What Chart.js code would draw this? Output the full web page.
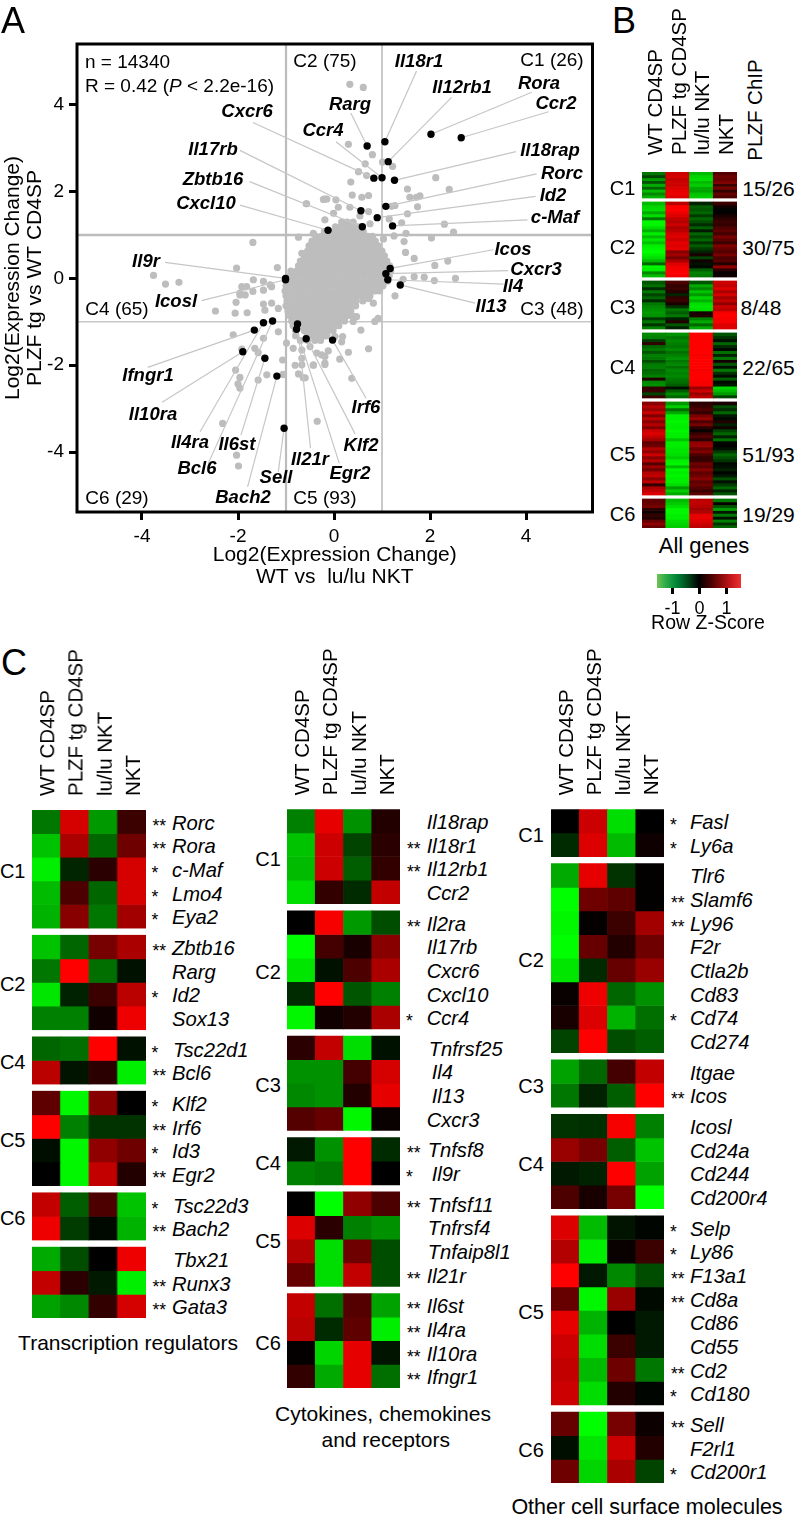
<!DOCTYPE html>
<html>
<head>
<meta charset="utf-8">
<title>PLZF expression clusters</title>
<script src="https://cdn.jsdelivr.net/npm/chart.js@4"></script>
<style>
  html, body { margin: 0; background: #fff; }
  #fig { position: relative; width: 796px; height: 1520px; overflow: hidden; background: #fff; }
  #fig canvas { position: absolute; }
  .t { position: absolute; white-space: pre; line-height: 1; color: #000; font-family: "Liberation Sans", Arial, sans-serif; z-index: 5; }
</style>
</head>
<body>
<div id="fig"></div>
<script>
// ---- Panel A data ----
const axisTicks = [-4, -2, 0, 2, 4];
const cutoffs = [-1, 1];

// the dense middle of the scatter, read row by row
const cloudY = [1.30, 1.19, 1.08, .97, .86, .75, .63, .52, .40, .29, .17, .06, -.06, -.17, -.29, -.40, -.52, -.63, -.75, -.86, -.98, -1.09, -1.20, -1.32, -1.43];
const cloudX = [
  [.16, .27, .40],
  [.03, .15, .27, .39, .50],
  [-.20, -.09, .03, .14, .26, .38, .50, .61],
  [-.38, -.26, -.14, -.02, .10, .22, .34, .46, .58, .70, .80],
  [-.46, -.33, -.21, -.09, .03, .15, .27, .39, .51, .63, .75, .86],
  [-.52, -.40, -.28, -.16, -.04, .08, .20, .32, .44, .56, .68, .80, .92],
  [-.55, -.43, -.31, -.19, -.07, .05, .17, .29, .41, .53, .65, .77, .89, 1.00],
  [-.62, -.50, -.38, -.26, -.13, -.01, .11, .23, .35, .47, .59, .71, .83, .95, 1.05],
  [-.70, -.58, -.46, -.33, -.21, -.09, .03, .15, .27, .39, .51, .63, .75, .87, .99, 1.10],
  [-.74, -.62, -.50, -.38, -.26, -.14, -.02, .10, .22, .34, .46, .58, .70, .82, .94, 1.06, 1.16],
  [-.90, -.78, -.66, -.54, -.42, -.30, -.18, -.06, .06, .18, .30, .42, .54, .66, .78, .90, 1.02, 1.10, 1.18],
  [-.92, -.84, -.72, -.60, -.48, -.36, -.24, -.12, 0, .12, .24, .36, .48, .60, .72, .84, .96, 1.08, 1.15],
  [-.95, -.82, -.70, -.58, -.46, -.34, -.22, -.10, .02, .14, .26, .38, .50, .62, .74, .86, .98, 1.12],
  [-1.00, -.88, -.76, -.64, -.52, -.40, -.28, -.16, -.04, .08, .20, .32, .44, .56, .68, .80, .92, 1.02],
  [-1.02, -.90, -.78, -.66, -.54, -.42, -.30, -.18, -.06, .06, .18, .30, .42, .54, .66, .78, .86, .95],
  [-1.00, -.88, -.76, -.64, -.52, -.40, -.28, -.16, -.04, .08, .20, .32, .44, .56, .66, .75],
  [-.98, -.86, -.74, -.62, -.50, -.38, -.26, -.14, -.02, .10, .22, .34, .46, .60],
  [-1.00, -.88, -.76, -.64, -.52, -.40, -.28, -.16, -.04, .08, .20, .32, .45],
  [-.96, -.84, -.72, -.60, -.48, -.36, -.24, -.12, 0, .12, .24, .35],
  [-.92, -.80, -.68, -.56, -.44, -.32, -.20, -.08, .04, .16, .28, .38],
  [-.88, -.74, -.62, -.50, -.38, -.26, -.14, -.02, .10, .22],
  [-.85, -.68, -.56, -.44, -.32, -.20, -.08, .04, .10],
  [-.80, -.62, -.50, -.38, -.26, -.14, -.02],
  [-.80, -.56, -.44, -.32, -.20, -.15],
  [-.70, -.55, -.40, -.28]
];
// scattered grey genes outside the cloud
const grayPoints = [
  [.33,4.47],[.61,4.40],[.30,3.09],[.80,2.85],[.65,2.64],[1.01,2.68],[1.22,2.58],[.51,2.46],[.68,2.37],[.35,2.22],
  [2.12,2.32],[1.53,2.06],[2.40,2.05],[.38,1.92],[.58,1.87],[.72,1.91],[1.58,1.87],[1.79,1.90],[1.72,1.87],[-.22,1.82],
  [-.15,1.83],[.04,1.81],[-.57,1.72],[.09,1.64],[.33,1.64],[.72,1.54],[1.27,1.68],[1.20,1.66],[1.74,1.65],[1.53,1.49],
  [-.01,1.50],[-.19,1.35],[.54,1.44],[1.15,1.37],[1.41,1.28],[2.30,1.25],[.75,1.26],[2.49,1.07],[1.50,1.04],[2.03,.93],
  [1.25,.98],[1.46,.85],[1.03,.91],[1.49,.60],[1.67,.46],[2.10,.30],[2.37,.40],[1.67,.04],[1.88,.03],[2.09,-.05],
  [2.53,0],[1.27,-.40],[1.44,-.02],[-1.69,.83],[-3.76,.07],[-3.51,-.13],[-3.23,-.09],[-2.03,.24],[-1.18,.25],[-.58,1.72],
  [-.19,1.83],[-.74,.95],[-.43,1.04],[-.67,.58],[-.47,.66],[-.29,.73],[-1.92,-.19],[-1.82,-.19],[-1.96,-.34],[-1.68,-.03],
  [-1.47,-.07],[-1.30,-.19],[-1.85,-.38],[-1.96,-.38],[-1.69,-.30],[-2.04,-.55],[-2.47,-.75],[-2.06,-.80],[-1.81,-.79],[-1.47,-.59],
  [-1.30,-.57],[-1.44,-.73],[-1.16,-.69],[-1.33,-.15],[-1.47,-.27],[-2.10,-1.30],[-1.16,-1.23],[-1.47,-1.38],[-1.65,-1.61],[-1.58,-1.71],
  [-1.92,-1.63],[-2.05,-2.11],[-1.96,-2.28],[-2.00,-2.43],[-1.96,-2.53],[-1.58,-2.34],[-1.40,-2.22],[-1.06,-2.21],[-1.07,-1.88],[-2.32,-3.34],
  [-2.03,-4.07],[-1.99,-4.32],[-.35,-3.29],[-.99,-1.49],[-.85,-1.61],[-.67,-1.65],[-.50,-1.57],[-.36,-1.72],[-.81,-2.00],[-.67,-1.99],
  [-.43,-2.00],[-.19,-1.95],[-.74,-2.20],[-.64,-2.29],[-.67,-1.84],[.82,-.57],[.72,-.46],[.85,-.27],[.47,-.88],[.40,-.99],
  [.92,-.92],[.85,-.99],[.56,-1.19],[.72,-1.62],[.30,-1.70],[.12,-1.86],[.18,-1.34],[.16,-1.46],[.02,-1.34],[-.12,-1.67],
  [-.19,-1.80],[-.26,-1.76],[-.43,-1.99],[-.19,-1.98],[.37,-2.30],[-.60,-2.29],[-.15,-1.30]
];
// labelled genes: black dot, then the far end of its leader line
const markedGenes = ['Il18r1','Il12rb1','Rora','Ccr2','Rarg','Ccr4','Cxcr6','Il18rap','Rorc','Id2','c-Maf','Il17rb','Zbtb16','Cxcl10','Icos','Cxcr3','Il4','Il13','Il9r','Icosl','Ifngr1','Il10ra','Il4ra','Bcl6','Il6st','Bach2','Sell','Il21r','Egr2','Klf2','Irf6'];
const markedX = [1.06,1.13,2.02,2.65,.69,1.00,.83,1.26,1.08,.90,1.22,.56,.59,-.125,1.17,1.08,1.12,1.38,-1.01,-1.01,-1.66,-1.90,-1.47,-1.28,-1.44,-1.19,-1.04,-.76,-.78,-.58,-.03];
const markedY = [3.15,2.69,3.32,3.24,3.05,2.32,2.31,2.26,1.66,1.40,1.21,1.56,1.19,1.11,.23,.11,-.03,-.15,0,-.03,-1.19,-1.69,-1.02,-.98,-1.84,-2.25,-3.45,-1.05,-1.17,-1.39,-1.42];
const leaderX = [1.72,2.45,4.12,4.47,.35,.04,-1.69,3.79,4.22,4.20,4.03,-1.96,-1.76,-1.96,3.32,3.63,3.53,2.94,-3.52,-2.76,-3.88,-3.58,-2.79,-2.62,-1.94,-1.80,-1.16,-.49,.11,.44,.67];
const leaderY = [4.78,4.17,4.29,3.84,3.81,3.15,3.59,2.92,2.41,1.89,1.35,2.95,2.23,1.69,.66,.18,-.13,-.57,.37,-.51,-2.05,-2.85,-3.53,-4.26,-3.61,-4.80,-4.45,-3.91,-4.26,-3.58,-2.76];
const markedLabelX = [419,462,539,556,350,323,247,550,562,553,555,213,213,206,513,536,513,491,146,176,148,153,190,197,237,243,276,310,350,361,366];
const markedLabelY = [61,87,83,103,104,130,111,150,173,195,217,149,179,203,249,269,286,306,261,301,375,414,442,468,444,497,477,459,473,445,407];

// ---- Panel B data ----
const sampleNames = ['WT CD4SP', 'PLZF tg CD4SP', 'lu/lu NKT', 'NKT'];
const allClusters = ['C1', 'C2', 'C3', 'C4', 'C5', 'C6'];
const allClusterSizes = [26, 75, 48, 65, 93, 29];
const chipCounts = ['15/26', '30/75', '8/48', '22/65', '51/93', '19/29'];
const keyRange = [-1.57, 1.54];
const keyTicks = [-1, 0, 1];
const allC1 = [[-.7,1.2,-1.1,.5],[-.4,1.25,-1.25,.65],[-.9,1.15,-1.3,.6],[-.5,1.2,-1.1,.75],[-1.0,1.2,-1.2,.35],[-.6,1.3,-1.0,.7],[-1.1,1.35,-.95,.3],[-.8,1.4,-1.15,.6],[-1.05,1.3,-1.2,.45]];
const allC2 = [[-1.1,1.1,-.2,.35],[-1.25,1.5,-.55,.1],[-1.3,1.5,-.5,-.02],[-1.0,1.4,-.6,.02],[-1.3,1.3,-.35,.15],[-.7,1.15,-.6,.25],[-1.45,1.05,-.45,.35],[-1.45,1.2,-.25,.3],[-1.3,1.0,-.55,.45],[-1.05,1.1,-.15,.55],[-1.4,1.25,-.6,.4],[-1.1,1.3,-.4,.7],[-1.35,1.2,-.6,.55],[-1.15,1.35,-.3,.35],[-1.4,1.3,-.55,.75],[-1.45,1.35,-.35,.6],[-1.5,.8,-.2,.5],[-1.4,.95,.15,.7],[-1.3,.7,-.4,.45],[-1.1,1.0,.1,.5],[-.6,1.3,-.1,.2],[-1.45,1.4,-.05,.85],[-1.4,1.45,-.55,.25],[-.8,1.5,-.75,.05],[-1.1,1.4,-.7,.1]];
const allC3 = [[-.5,.45,-.5,1.2],[-.65,.3,-1.0,1.15],[-.25,.35,-.8,1.3],[-.7,.2,-1.15,1.0],[-.4,-.2,-.9,1.25],[-.6,.3,-1.25,.95],[-.25,.35,-1.05,1.15],[-.7,.15,-1.3,.85],[-.8,-.3,-1.35,1.2],[-.85,-.7,-1.3,1.1],[-.9,-.55,.15,1.45],[-.85,-.7,.2,1.5],[-.35,-.2,-.75,1.45],[-.7,.2,-1.0,1.45],[-.3,-.5,-.6,1.3],[-.75,-.2,-1.0,1.3]];
const allC4 = [[-.8,-.85,1.5,-.5],[-.75,-.7,1.5,-.3],[-.35,-.8,1.5,-.1],[.3,-.75,1.5,-.6],[-.6,-.7,1.5,-.25],[-.7,-.8,1.5,-.05],[-.5,-.65,1.5,-.65],[-.75,-.75,1.45,-.2],[-.7,-.85,1.5,-.7],[-.45,-.7,1.5,.1],[-.7,-.8,1.5,-.5],[-.75,-.65,1.5,-.1],[-.6,-.8,1.45,-.7],[-.65,-.75,1.5,-.3],[-.75,-.8,1.5,-.08],[.2,-.7,1.5,-.55],[-.8,-.65,1.45,-.05],[-.85,-.55,1.45,-.15],[.3,-.1,.9,-1.25],[.35,-.55,1.2,-1.1],[-.4,-.8,.9,-.9],[.35,-.6,1.1,-.4]];
const allC5 = [[.8,-.9,.25,.15],[1.05,-1.2,.35,-.45],[.9,-.65,.45,-.25],[1.2,-1.0,.3,-.6],[.75,-1.4,.7,-.15],[1.1,-1.4,.9,-.05],[.8,-1.45,.45,.2],[1.05,-1.4,.7,-.2],[.75,-1.4,.25,.1],[1.2,-1.45,.05,-.4],[1.3,-1.4,.35,-.6],[1.15,-1.4,.5,-.2],[.95,-1.15,.25,-.65],[.55,-1.4,.85,-.05],[.65,-1.4,.9,.02],[1.05,-1.35,.6,-.1],[.85,-1.35,.75,-.35],[1.2,-1.3,.45,-.6],[.8,-1.2,.3,-.45],[1.05,-1.4,.35,-.3],[.5,-1.45,.65,-.05],[.9,-1.1,.55,-.1],[.65,-1.45,.8,-.2],[1.05,-1.4,.55,-.02],[1.15,-1.45,.65,-.15],[.8,-1.4,.8,-.45],[1.1,-1.4,.55,-.1],[.3,-1.3,.65,-.35],[1.0,-.9,.5,-.6],[1.15,-1.2,.35,-.2],[1.3,-1.0,.55,-.5]];
const allC6 = [[.55,-1.1,1.1,-.7],[.6,-1.2,1.15,.05],[.7,-1.3,1.05,-.5],[.25,-1.45,.95,-.9],[.1,-1.45,1.05,-.15],[.3,-1.4,1.35,-.7],[.2,-1.4,1.35,-.1],[.6,-1.3,1.3,-.75],[.85,-1.25,1.2,-.3],[.6,-1.2,1.1,-.6]];

// ---- Panel C data ----
const trClusters = ['C1', 'C2', 'C4', 'C5', 'C6', ''];
const trSizes = [5, 4, 2, 4, 2, 3];
const trGenes = ['Rorc','Rora','c-Maf','Lmo4','Eya2','Zbtb16','Rarg','Id2','Sox13','Tsc22d1','Bcl6','Klf2','Irf6','Id3','Egr2','Tsc22d3','Bach2','Tbx21','Runx3','Gata3'];
const trStars = ['**','**','*','*','*','**','','*','','*','**','*','**','*','**','*','**','','**','**'];
const trZ = [[-.7,1.25,-.9,.35],[-1.15,1.0,-.6,.65],[-1.4,-.22,.25,1.25],[-1.1,.45,-.6,1.25],[-1.05,.8,-.7,.95],[-1.15,-.6,.7,1.0],[-.7,1.5,-.65,-.1],[-1.35,-.2,.35,1.1],[-.75,-.75,.1,1.4],[-.6,-.65,1.5,-.1],[1.1,-.12,.25,-1.4],[.55,-1.45,.8,0],[1.5,-.75,-.3,-.3],[-.08,-1.45,.85,.65],[0,-1.45,1.15,.2],[1.15,-.55,.45,-1.15],[1.4,-.35,-.05,-1.05],[-1.0,-.45,0,1.4],[1.15,.25,-.15,-1.4],[-.95,-.8,.3,1.25]];

const cyClusters = ['C1', 'C2', 'C3', 'C4', 'C5', 'C6'];
const cySizes = [4, 5, 4, 2, 4, 4];
const cyGenes = ['Il18rap','Il18r1','Il12rb1','Ccr2','Il2ra','Il17rb','Cxcr6','Cxcl10','Ccr4','Tnfrsf25','Il4','Il13','Cxcr3','Tnfsf8','Il9r','Tnfsf11','Tnfrsf4','Tnfaip8l1','Il21r','Il6st','Il4ra','Il10ra','Ifngr1'];
const cyStars = ['','**','**','','**','','','','*','','','','','**','*','**','','','**','**','**','**','**'];
const cyZ = [[-.75,1.35,-.85,.2],[-1.15,1.2,-.4,.25],[-1.1,1.2,-.55,.3],[-1.3,.3,-.25,1.15],[0,1.45,-.9,-.45],[-1.5,.4,.15,.8],[-1.35,-.1,.45,1.0],[-.25,1.5,-.5,-.75],[-1.45,.1,.2,1.0],[.25,1.15,-1.3,-.1],[-.85,-.85,.4,1.25],[-.8,-.85,.2,1.35],[.5,.6,-1.45,.05],[-.15,-.85,1.5,-.25],[-.75,-.7,1.5,0],[0,-1.5,.85,.45],[1.3,.25,-.75,-.85],[1.05,-1.3,.65,-.45],[.6,-1.3,1.15,-.45],[1.15,-.65,.5,-.95],[1.1,-.25,.55,-1.4],[.03,-1.25,1.35,-.12],[.3,-1.0,1.35,-.65]];

const otClusters = ['C1', 'C2', 'C3', 'C4', 'C5', 'C6'];
const otSizes = [2, 8, 2, 4, 8, 3];
const otGenes = ['Fasl','Ly6a','Tlr6','Slamf6','Ly96','F2r','Ctla2b','Cd83','Cd74','Cd274','Itgae','Icos','Icosl','Cd24a','Cd244','Cd200r4','Selp','Ly86','F13a1','Cd8a','Cd86','Cd55','Cd2','Cd180','Sell','F2rl1','Cd200r1'];
const otStars = ['*','*','','**','**','','','','*','','','**','','','','','*','*','**','**','','','**','*','**','','*'];
const otZ = [[0,1.2,-1.3,0],[-.25,1.3,-1.1,.08],[-1.0,1.35,-.3,.02],[-1.5,.65,.55,.02],[-1.45,.03,.35,.95],[-1.5,.6,.2,.65],[-1.35,-.25,.6,.9],[.05,1.4,-.6,-.85],[.15,1.3,-1.05,-.65],[-.4,1.5,-.45,-.55],[-.95,-.6,.4,1.15],[-.7,-.2,-.55,1.5],[-.3,-.28,1.45,-.75],[.9,.7,-.55,-1.15],[-.15,-.2,1.5,-.95],[.45,.15,.7,-1.5],[1.3,-1.1,-.12,-.03],[1.05,-1.4,.05,.35],[1.5,-.15,-.8,-.45],[.6,-1.45,.9,-.05],[1.35,-1.05,0,-.15],[1.2,-1.3,.35,-.15],[1.15,-1.1,.65,-.7],[1.2,-1.3,.2,-.03],[.6,-1.5,.7,.07],[-.08,-1.35,1.2,.2],[.65,-1.25,1.0,-.4]];

// genes that sit a little right of the text column
const geneIndent = { 'Il4': 5, 'Il13': 5, 'Il9r': 5, 'Tnfrsf25': 2, 'Tnfsf8': 1, 'Tnfsf11': 1, 'Tnfrsf4': 1, 'Tnfaip8l1': 1, 'Tsc22d1': 1, 'Tsc22d3': 1, 'Tbx21': 1 };

const fig = document.getElementById('fig');
const FONT = '"Liberation Sans", Arial, sans-serif';
Chart.defaults.font.family = FONT;
Chart.defaults.color = '#000';

// Free text on top of the charts, (x, y) is the anchor point
function place(str, x, y, o) {
    o = o || {};
    const d = document.createElement('div');
    d.className = 't';
    if (o.html) d.innerHTML = str; else d.textContent = str;
    d.style.left = x + 'px';
    d.style.top = y + 'px';
    d.style.fontSize = (o.size || 19) + 'px';
    if (o.italic) d.style.fontStyle = 'italic';
    if (o.bold) d.style.fontWeight = 'bold';
    const tx = o.align === 'left' ? '0' : '-50%';
    d.style.transform = 'translate(' + tx + ',-50%)' + (o.rot ? ' rotate(' + o.rot + 'deg)' : '');
    fig.appendChild(d);
}

function addCanvas(left, top, w, h) {
    const c = document.createElement('canvas');
    c.width = w;
    c.height = h;
    c.style.left = left + 'px';
    c.style.top = top + 'px';
    c.style.width = w + 'px';
    c.style.height = h + 'px';
    fig.appendChild(c);
    return c;
}

// z-score to the red / black / green of the heatmaps
function heat(z) {
    const t = Math.min(Math.abs(z) / 1.5, 1);
    const v = Math.round(t * 255);
    return z < 0 ? 'rgb(0,' + v + ',0)' : 'rgb(' + v + ',0,0)';
}

// Row spans along the heatmap's y scale, blocks split by a small gap
function layoutRows(counts, heights, gap) {
    let y = 0;
    const spans = [], blocks = [];
    counts.forEach(function(n, b) {
        const start = y;
        for (let i = 0; i < n; i++) {
            spans.push([y, y + heights[b]]);
            y += heights[b];
        }
        blocks.push([start, y]);
        y += gap;
    });
    return { spans: spans, blocks: blocks, total: y - gap };
}

function heatChart(box, rows, rowLayout) {
    const canvas = addCanvas(box.left, box.canvasTop, box.width, box.bottom - box.canvasTop);
    return new Chart(canvas, {
        type: 'bar',
        data: {
            labels: sampleNames,
            datasets: rows.map(function(z, i) {
                return {
                    data: z.map(function() { return rowLayout.spans[i]; }),
                    backgroundColor: z.map(heat),
                    borderWidth: 0,
                    barPercentage: 1,
                    categoryPercentage: 1,
                    grouped: false
                };
            })
        },
        options: {
            responsive: false,
            animation: false,
            events: [],
            layout: { padding: 0 },
            plugins: { legend: { display: false }, tooltip: { enabled: false } },
            scales: {
                x: {
                    position: 'top',
                    grid: { display: false },
                    border: { display: false },
                    ticks: { autoSkip: false, minRotation: 90, maxRotation: 90, padding: box.pad, labelOffset: 27, font: { size: box.font }, color: '#000' },
                    afterFit: function(s) {
                        s.height = box.top - box.canvasTop;
                        s.paddingLeft = 0;
                        s.paddingRight = 0;
                    }
                },
                y: { display: false, reverse: true, min: 0, max: rowLayout.total }
            }
        }
    });
}

// Panel A scatter
function drawScatter() {
    const cloud = [];
    cloudX.forEach(function(row, i) {
        row.forEach(function(x) { cloud.push({ x: x, y: cloudY[i] }); });
    });
    const grays = cloud.concat(grayPoints.map(function(p) { return { x: p[0], y: p[1] }; }));
    const black = markedGenes.map(function(g, i) { return { x: markedX[i], y: markedY[i] }; });

    const lineSet = function(a, b, width, color, order) {
        return { type: 'scatter', showLine: true, data: [a, b], borderColor: color, borderWidth: width, pointRadius: 0, order: order };
    };
    const datasets = [
        lineSet({ x: cutoffs[0], y: -5.38 }, { x: cutoffs[0], y: 5.40 }, 2.2, '#bcbcbc', 6),
        lineSet({ x: cutoffs[1], y: -5.38 }, { x: cutoffs[1], y: 5.40 }, 1.6, '#bcbcbc', 6),
        lineSet({ x: -5.354, y: cutoffs[1] }, { x: 5.385, y: cutoffs[1] }, 2.5, '#bcbcbc', 6),
        lineSet({ x: -5.354, y: cutoffs[0] }, { x: 5.385, y: cutoffs[0] }, 1.5, '#c8c8c8', 6),
        { data: grays, backgroundColor: '#bdbdbd', pointRadius: 3.6, pointBorderWidth: 0, order: 5 }
    ];
    markedGenes.forEach(function(g, i) {
        datasets.push(lineSet({ x: leaderX[i], y: leaderY[i] }, { x: markedX[i], y: markedY[i] }, 1.2, '#c6c6c6', 4));
    });
    datasets.push({ data: black, backgroundColor: '#000', pointRadius: 3.7, pointBorderWidth: 0, order: 1 });

    const frame = {
        id: 'frame',
        afterDatasetsDraw: function(chart) {
            const a = chart.chartArea, ctx = chart.ctx;
            ctx.save();
            ctx.strokeStyle = '#000';
            ctx.lineWidth = 3;
            ctx.strokeRect(a.left, a.top, a.right - a.left, a.bottom - a.top);
            ctx.restore();
        }
    };
    const axis = function(min, max) {
        return {
            type: 'linear', min: min, max: max,
            afterBuildTicks: function(s) { s.ticks = axisTicks.map(function(v) { return { value: v }; }); },
            grid: { drawOnChartArea: false, tickLength: 8, tickWidth: 3, tickColor: '#000' },
            border: { display: false },
            ticks: { font: { size: 19 }, color: '#000', padding: 5, maxRotation: 0, minRotation: 0 }
        };
    };
    const xAxis = axis(-5.354, 5.385);
    xAxis.title = { display: true, text: ['Log2(Expression Change)', 'WT vs  lu/lu NKT'], font: { size: 21, lineHeight: 1.05 }, color: '#000', padding: 0 };
    xAxis.afterFit = function(s) { s.height = 76; };
    const yAxis = axis(-5.38, 5.40);
    yAxis.title = { display: true, text: ['Log2(Expression Change)', 'PLZF tg vs WT CD4SP'], font: { size: 21, lineHeight: 1.05 }, color: '#000', padding: 0 };
    yAxis.afterFit = function(s) { s.width = 75; };

    new Chart(addCanvas(0, 0, 600, 588), {
        type: 'scatter',
        data: { datasets: datasets },
        options: {
            responsive: false,
            animation: false,
            events: [],
            layout: { padding: { left: 2, top: 44, right: 7.5, bottom: 0 } },
            plugins: { legend: { display: false }, tooltip: { enabled: false } },
            scales: { x: xAxis, y: yAxis }
        },
        plugins: [frame]
    });

    markedGenes.forEach(function(g, i) {
        place(g, markedLabelX[i], markedLabelY[i], { size: 18.5, italic: true, bold: true });
    });
    place('n = 14340', 85, 61, { align: 'left' });
    place('R = 0.42 (<i>P</i> &lt; 2.2e-16)', 85, 85, { align: 'left', html: true });
    place('C2 (75)', 325, 60);
    place('C1 (26)', 552, 59);
    place('C4 (65)', 117, 308);
    place('C3 (48)', 552, 308);
    place('C6 (29)', 117, 497);
    place('C5 (93)', 325, 497);
}

// Panel B, all genes in thin bands
function drawAllGenes() {
    const bands = [allC1, allC2, allC3, allC4, allC5, allC6];
    const heights = bands.map(function(b, i) { return allClusterSizes[i] / b.length; });
    const rl = layoutRows(bands.map(function(b) { return b.length; }), heights, 3.9);
    heatChart({ left: 642.3, width: 95, canvasTop: 0, top: 172, bottom: 528, pad: 9, font: 20.5 }, [].concat.apply([], bands), rl);
    const labelY = [188, 247, 307, 367, 454, 514];
    allClusters.forEach(function(c, i) {
        place(c, 622.5, labelY[i], { size: 20 });
        const count = chipCounts[i];
        if (count.length === 4) place(count, 761, labelY[i], { size: 21 });
        else place(count, 768.5, labelY[i], { size: 21 });
    });
    place('PLZF ChIP', 755, 110, { size: 20.5, rot: -90 });
    place('All genes', 704, 546, { size: 22 });
    place('Row Z-Score', 708, 623, { size: 19.5 });
}

// Panel B colour key
function drawKey() {
    new Chart(addCanvas(657, 574, 84, 44), {
        type: 'bar',
        data: {
            labels: ['z'],
            datasets: [{
                data: [keyRange],
                borderWidth: 0,
                barPercentage: 1,
                categoryPercentage: 1,
                backgroundColor: function(c) {
                    const a = c.chart.chartArea;
                    if (!a) return '#000';
                    const g = c.chart.ctx.createLinearGradient(a.left, 0, a.right, 0);
                    g.addColorStop(0, 'rgb(112,195,85)');
                    g.addColorStop(.11, 'rgb(40,170,70)');
                    g.addColorStop(.24, 'rgb(0,130,55)');
                    g.addColorStop(.37, 'rgb(0,70,25)');
                    g.addColorStop(.5, '#000');
                    g.addColorStop(.63, 'rgb(70,0,0)');
                    g.addColorStop(.76, 'rgb(135,10,10)');
                    g.addColorStop(.89, 'rgb(200,25,30)');
                    g.addColorStop(1, 'rgb(235,50,50)');
                    return g;
                }
            }]
        },
        options: {
            indexAxis: 'y',
            responsive: false,
            animation: false,
            events: [],
            layout: { padding: 0 },
            plugins: { legend: { display: false }, tooltip: { enabled: false } },
            scales: {
                x: {
                    type: 'linear', min: keyRange[0], max: keyRange[1],
                    afterBuildTicks: function(s) { s.ticks = keyTicks.map(function(v) { return { value: v }; }); },
                    grid: { drawOnChartArea: false, tickLength: 6, tickWidth: 3, tickColor: '#000' },
                    border: { display: false },
                    ticks: { font: { size: 18 }, color: '#000', padding: 4, maxRotation: 0, minRotation: 0 },
                    afterFit: function(s) { s.height = 30; }
                },
                y: { display: false }
            }
        }
    });
}

// One column of panel C: heatmap, stars, gene names, cluster names
function drawGroup(box, clusters, sizes, genes, stars, z, xs) {
    const rl = layoutRows(sizes, sizes.map(function() { return 1; }), .3);
    box.canvasTop = 640;
    box.pad = 6;
    box.font = 20.5;
    const chart = heatChart(box, z, rl);
    const y = chart.scales.y;
    genes.forEach(function(g, i) {
        const mid = box.canvasTop + y.getPixelForValue((rl.spans[i][0] + rl.spans[i][1]) / 2);
        place(g, xs.gene + (geneIndent[g] || 0), mid + 1, { size: 20.2, italic: true, align: 'left' });
        if (stars[i]) place(stars[i], stars[i].length === 2 ? xs.stars2 : xs.stars1, mid + 5, { size: 17.5 });
    });
    clusters.forEach(function(c, i) {
        if (!c) return;
        const mid = box.canvasTop + y.getPixelForValue((rl.blocks[i][0] + rl.blocks[i][1]) / 2);
        place(c, xs.cluster, mid + 2, { size: 20 });
    });
}

drawScatter();
drawAllGenes();
drawKey();
drawGroup({ left: 32.3, width: 113.4, top: 810, bottom: 1318 }, trClusters, trSizes, trGenes, trStars, trZ, { gene: 172, stars2: 159.3, stars1: 155, cluster: 12.7 });
drawGroup({ left: 286.7, width: 113.6, top: 809.3, bottom: 1388.3 }, cyClusters, cySizes, cyGenes, cyStars, cyZ, { gene: 426.7, stars2: 413.7, stars1: 409.3, cluster: 268 });
drawGroup({ left: 550.7, width: 113.6, top: 809.3, bottom: 1483.3 }, otClusters, otSizes, otGenes, otStars, otZ, { gene: 690, stars2: 677.7, stars1: 673.3, cluster: 531 });

place('A', 13, 21, { size: 36 });
place('B', 624, 21, { size: 36 });
place('C', 14, 663, { size: 36 });
place('Transcription regulators', 128, 1342, { size: 21 });
place('Cytokines, chemokines', 383, 1413, { size: 21 });
place('and receptors', 385.7, 1439, { size: 21 });
place('Other cell surface molecules', 647, 1508, { size: 21.5 });
</script>
</body>
</html>
